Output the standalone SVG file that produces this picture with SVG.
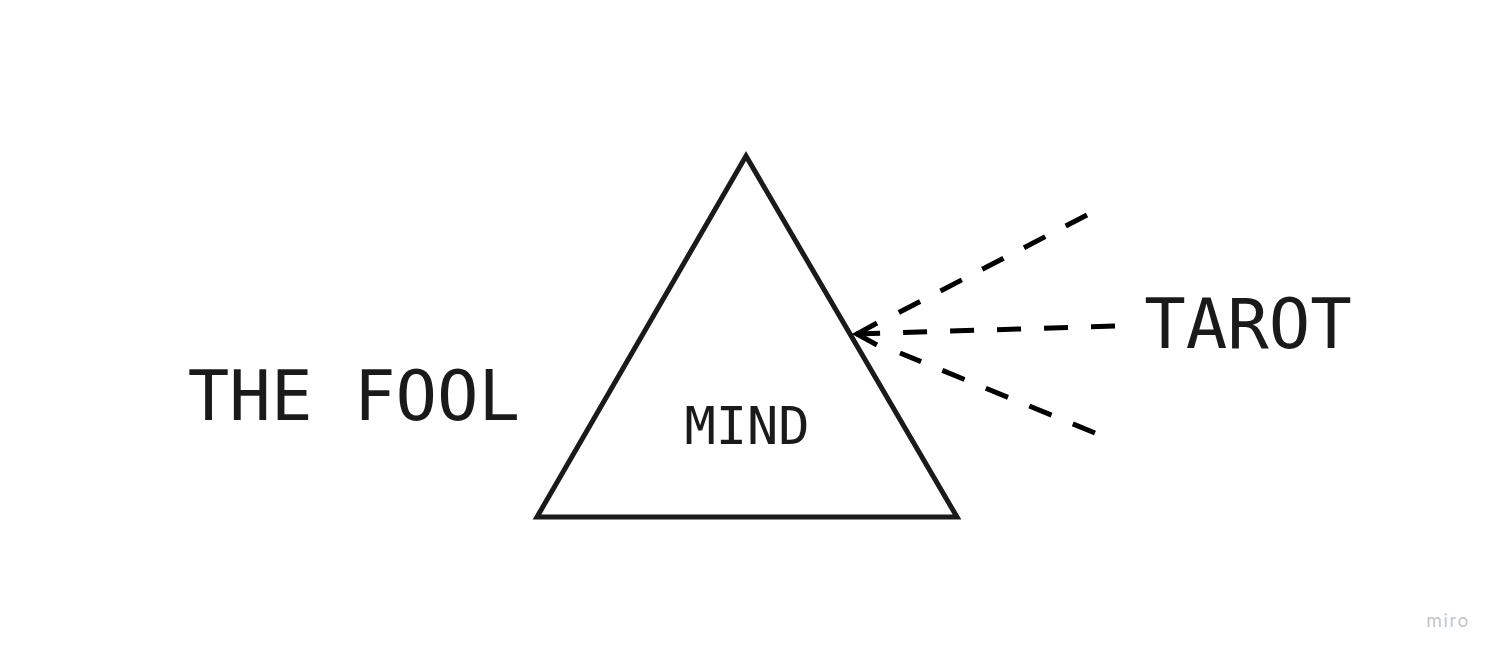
<svg xmlns="http://www.w3.org/2000/svg" width="1507" height="663" viewBox="0 0 1507 663">
<style>
.lbl{font-family:"DejaVu Sans Mono","Liberation Mono",monospace;fill:#1a1a1a}
.dash{fill:none;stroke:#000;stroke-width:5;stroke-dasharray:24 23}
</style>
<rect width="1507" height="663" fill="#fff"/>
<g id="mind">
<polygon points="746,156 537,517 957,517" fill="none" stroke="#1a1a1a" stroke-width="5" stroke-linejoin="miter"/>
<text class="lbl" x="747" y="444" font-size="52" text-anchor="middle">MIND</text>
</g>
<g id="the-fool">
<text class="lbl" x="354" y="420" font-size="69" text-anchor="middle">THE FOOL</text>
</g>
<g id="tarot">
<text class="lbl" x="1248" y="348" font-size="69" text-anchor="middle">TAROT</text>
</g>
<g id="connectors">
<line class="dash" x1="1087" y1="215" x2="898" y2="313"/>
<line class="dash" x1="1115" y1="326" x2="856" y2="334"/>
<line class="dash" x1="1095" y1="433" x2="900" y2="353"/>
<polyline points="877,323 857,334 877,345" fill="none" stroke="#000" stroke-width="5" stroke-linecap="butt" stroke-linejoin="miter"/>
</g>
<text x="1448" y="627" font-family="Inter,'Noto Sans',sans-serif" font-size="18" fill="#c2c5cd" text-anchor="middle" letter-spacing="1.5">miro</text>
</svg>
